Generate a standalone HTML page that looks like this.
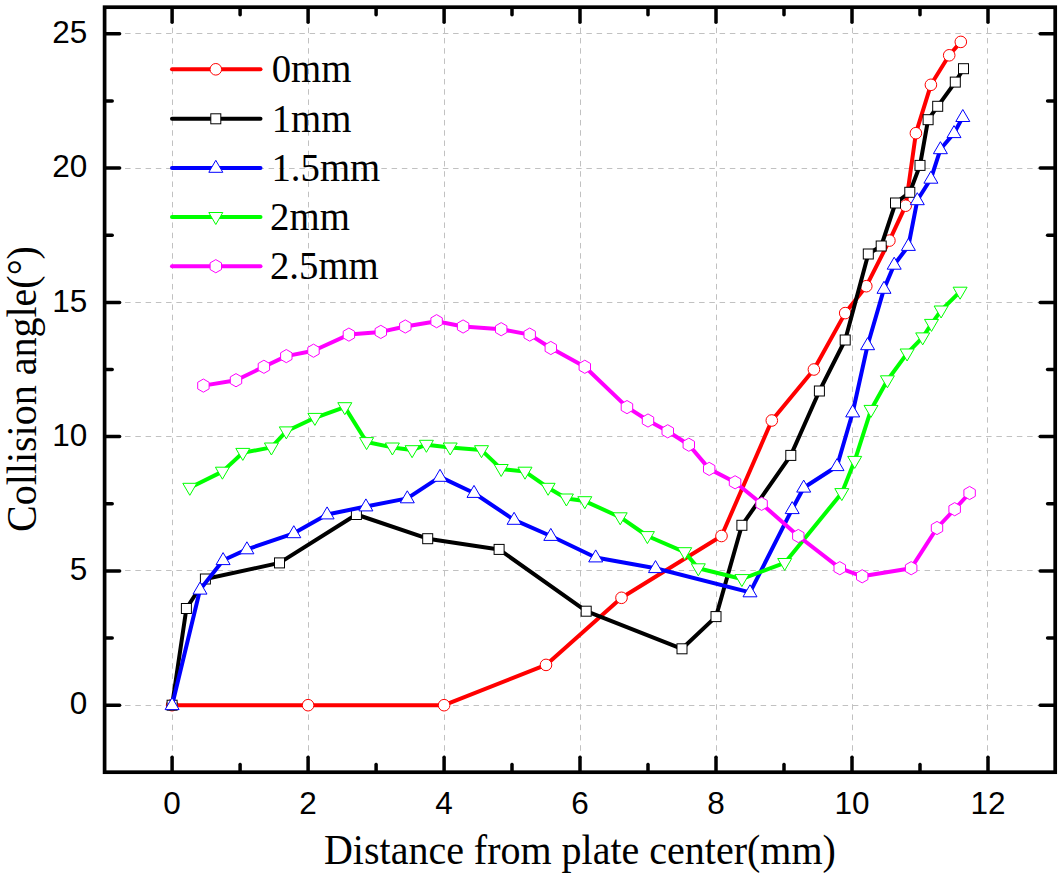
<!DOCTYPE html>
<html><head><meta charset="utf-8"><title>Collision angle chart</title>
<style>html,body{margin:0;padding:0;background:#fff;}body{width:1062px;height:878px;overflow:hidden;position:relative;font-family:"Liberation Sans",sans-serif;}svg{position:absolute;left:0;top:0;display:block;}text{fill:#000;}.tk{font-family:"Liberation Sans",sans-serif;font-size:31.5px;}.ti{font-family:"Liberation Serif",serif;font-size:40px;}.lg{font-family:"Liberation Serif",serif;font-size:38.8px;}</style></head><body>
<svg width="1062" height="878" viewBox="0 0 1062 878">
<rect x="0" y="0" width="1062" height="878" fill="#fff"/>
<g stroke="#c1c1c1" stroke-width="1" stroke-dasharray="5.5 4.75" fill="none">
<line x1="172.5" y1="7.2" x2="172.5" y2="772.2"/>
<line x1="308.5" y1="7.2" x2="308.5" y2="772.2"/>
<line x1="444.5" y1="7.2" x2="444.5" y2="772.2"/>
<line x1="580.5" y1="7.2" x2="580.5" y2="772.2"/>
<line x1="716.5" y1="7.2" x2="716.5" y2="772.2"/>
<line x1="852.5" y1="7.2" x2="852.5" y2="772.2"/>
<line x1="987.5" y1="7.2" x2="987.5" y2="772.2"/>
<line x1="104.6" y1="705.5" x2="1055.2" y2="705.5"/>
<line x1="104.6" y1="570.5" x2="1055.2" y2="570.5"/>
<line x1="104.6" y1="436.5" x2="1055.2" y2="436.5"/>
<line x1="104.6" y1="302.5" x2="1055.2" y2="302.5"/>
<line x1="104.6" y1="168.5" x2="1055.2" y2="168.5"/>
<line x1="104.6" y1="33.5" x2="1055.2" y2="33.5"/>
</g>
<g id="s-red"><polyline points="172.1,705.2 308.1,705.2 444.1,705.2 546.0,664.9 621.5,597.8 721.5,536.0 771.8,420.5 813.9,369.5 845.2,313.1 866.3,286.2 889.4,240.6 905.7,205.7 915.9,133.2 930.9,84.8 949.2,55.3 960.8,41.9" fill="none" stroke="#ff0000" stroke-width="4" stroke-linejoin="round" stroke-linecap="round"/>
<circle cx="172.1" cy="705.2" r="5.8" fill="#fff" stroke="#ff0000" stroke-width="1"/>
<circle cx="308.1" cy="705.2" r="5.8" fill="#fff" stroke="#ff0000" stroke-width="1"/>
<circle cx="444.1" cy="705.2" r="5.8" fill="#fff" stroke="#ff0000" stroke-width="1"/>
<circle cx="546.0" cy="664.9" r="5.8" fill="#fff" stroke="#ff0000" stroke-width="1"/>
<circle cx="621.5" cy="597.8" r="5.8" fill="#fff" stroke="#ff0000" stroke-width="1"/>
<circle cx="721.5" cy="536.0" r="5.8" fill="#fff" stroke="#ff0000" stroke-width="1"/>
<circle cx="771.8" cy="420.5" r="5.8" fill="#fff" stroke="#ff0000" stroke-width="1"/>
<circle cx="813.9" cy="369.5" r="5.8" fill="#fff" stroke="#ff0000" stroke-width="1"/>
<circle cx="845.2" cy="313.1" r="5.8" fill="#fff" stroke="#ff0000" stroke-width="1"/>
<circle cx="866.3" cy="286.2" r="5.8" fill="#fff" stroke="#ff0000" stroke-width="1"/>
<circle cx="889.4" cy="240.6" r="5.8" fill="#fff" stroke="#ff0000" stroke-width="1"/>
<circle cx="905.7" cy="205.7" r="5.8" fill="#fff" stroke="#ff0000" stroke-width="1"/>
<circle cx="915.9" cy="133.2" r="5.8" fill="#fff" stroke="#ff0000" stroke-width="1"/>
<circle cx="930.9" cy="84.8" r="5.8" fill="#fff" stroke="#ff0000" stroke-width="1"/>
<circle cx="949.2" cy="55.3" r="5.8" fill="#fff" stroke="#ff0000" stroke-width="1"/>
<circle cx="960.8" cy="41.9" r="5.8" fill="#fff" stroke="#ff0000" stroke-width="1"/>
</g>
<g id="s-black"><polyline points="172.1,705.2 186.4,608.5 205.4,579.0 279.5,562.9 356.4,514.5 427.7,538.7 499.1,549.4 586.2,611.2 682.0,648.8 716.0,616.6 741.9,525.3 790.8,455.4 819.4,391.0 845.2,340.0 868.3,254.0 881.2,246.0 895.5,203.0 909.8,192.3 920.0,165.4 928.1,119.7 937.7,106.3 955.3,82.1 963.5,68.7" fill="none" stroke="#000000" stroke-width="4" stroke-linejoin="round" stroke-linecap="round"/>
<rect x="167.1" y="700.2" width="10" height="10" fill="#fff" stroke="#000000" stroke-width="1"/>
<rect x="181.4" y="603.5" width="10" height="10" fill="#fff" stroke="#000000" stroke-width="1"/>
<rect x="200.4" y="574.0" width="10" height="10" fill="#fff" stroke="#000000" stroke-width="1"/>
<rect x="274.5" y="557.9" width="10" height="10" fill="#fff" stroke="#000000" stroke-width="1"/>
<rect x="351.4" y="509.5" width="10" height="10" fill="#fff" stroke="#000000" stroke-width="1"/>
<rect x="422.7" y="533.7" width="10" height="10" fill="#fff" stroke="#000000" stroke-width="1"/>
<rect x="494.1" y="544.4" width="10" height="10" fill="#fff" stroke="#000000" stroke-width="1"/>
<rect x="581.2" y="606.2" width="10" height="10" fill="#fff" stroke="#000000" stroke-width="1"/>
<rect x="677.0" y="643.8" width="10" height="10" fill="#fff" stroke="#000000" stroke-width="1"/>
<rect x="711.0" y="611.6" width="10" height="10" fill="#fff" stroke="#000000" stroke-width="1"/>
<rect x="736.9" y="520.3" width="10" height="10" fill="#fff" stroke="#000000" stroke-width="1"/>
<rect x="785.8" y="450.4" width="10" height="10" fill="#fff" stroke="#000000" stroke-width="1"/>
<rect x="814.4" y="386.0" width="10" height="10" fill="#fff" stroke="#000000" stroke-width="1"/>
<rect x="840.2" y="335.0" width="10" height="10" fill="#fff" stroke="#000000" stroke-width="1"/>
<rect x="863.3" y="249.0" width="10" height="10" fill="#fff" stroke="#000000" stroke-width="1"/>
<rect x="876.2" y="241.0" width="10" height="10" fill="#fff" stroke="#000000" stroke-width="1"/>
<rect x="890.5" y="198.0" width="10" height="10" fill="#fff" stroke="#000000" stroke-width="1"/>
<rect x="904.8" y="187.3" width="10" height="10" fill="#fff" stroke="#000000" stroke-width="1"/>
<rect x="915.0" y="160.4" width="10" height="10" fill="#fff" stroke="#000000" stroke-width="1"/>
<rect x="923.1" y="114.7" width="10" height="10" fill="#fff" stroke="#000000" stroke-width="1"/>
<rect x="932.7" y="101.3" width="10" height="10" fill="#fff" stroke="#000000" stroke-width="1"/>
<rect x="950.3" y="77.1" width="10" height="10" fill="#fff" stroke="#000000" stroke-width="1"/>
<rect x="958.5" y="63.7" width="10" height="10" fill="#fff" stroke="#000000" stroke-width="1"/>
</g>
<g id="s-blue"><polyline points="172.1,705.2 200.0,589.7 223.1,560.2 246.9,549.4 293.8,533.3 327.1,514.5 365.9,506.5 407.3,498.4 440.0,476.9 474.0,493.0 514.1,519.9 550.8,536.0 595.7,557.5 655.5,568.2 750.0,592.4 792.2,509.2 803.7,487.7 837.0,466.2 852.7,412.5 867.6,345.3 884.0,288.9 894.2,264.8 908.4,246.0 917.3,200.3 930.9,178.8 940.4,149.3 954.0,133.2 962.8,117.1" fill="none" stroke="#0000ff" stroke-width="4" stroke-linejoin="round" stroke-linecap="round"/>
<polygon points="165.1,709.6 179.1,709.6 172.1,697.6" fill="#fff" stroke="#0000ff" stroke-width="1" stroke-linejoin="miter"/>
<polygon points="193.0,594.1 207.0,594.1 200.0,582.1" fill="#fff" stroke="#0000ff" stroke-width="1" stroke-linejoin="miter"/>
<polygon points="216.1,564.6 230.1,564.6 223.1,552.6" fill="#fff" stroke="#0000ff" stroke-width="1" stroke-linejoin="miter"/>
<polygon points="239.9,553.8 253.9,553.8 246.9,541.8" fill="#fff" stroke="#0000ff" stroke-width="1" stroke-linejoin="miter"/>
<polygon points="286.8,537.7 300.8,537.7 293.8,525.7" fill="#fff" stroke="#0000ff" stroke-width="1" stroke-linejoin="miter"/>
<polygon points="320.1,518.9 334.1,518.9 327.1,506.9" fill="#fff" stroke="#0000ff" stroke-width="1" stroke-linejoin="miter"/>
<polygon points="358.9,510.9 372.9,510.9 365.9,498.9" fill="#fff" stroke="#0000ff" stroke-width="1" stroke-linejoin="miter"/>
<polygon points="400.3,502.8 414.3,502.8 407.3,490.8" fill="#fff" stroke="#0000ff" stroke-width="1" stroke-linejoin="miter"/>
<polygon points="433.0,481.3 447.0,481.3 440.0,469.3" fill="#fff" stroke="#0000ff" stroke-width="1" stroke-linejoin="miter"/>
<polygon points="467.0,497.4 481.0,497.4 474.0,485.4" fill="#fff" stroke="#0000ff" stroke-width="1" stroke-linejoin="miter"/>
<polygon points="507.1,524.3 521.1,524.3 514.1,512.3" fill="#fff" stroke="#0000ff" stroke-width="1" stroke-linejoin="miter"/>
<polygon points="543.8,540.4 557.8,540.4 550.8,528.4" fill="#fff" stroke="#0000ff" stroke-width="1" stroke-linejoin="miter"/>
<polygon points="588.7,561.9 602.7,561.9 595.7,549.9" fill="#fff" stroke="#0000ff" stroke-width="1" stroke-linejoin="miter"/>
<polygon points="648.5,572.6 662.5,572.6 655.5,560.6" fill="#fff" stroke="#0000ff" stroke-width="1" stroke-linejoin="miter"/>
<polygon points="743.0,596.8 757.0,596.8 750.0,584.8" fill="#fff" stroke="#0000ff" stroke-width="1" stroke-linejoin="miter"/>
<polygon points="785.2,513.6 799.2,513.6 792.2,501.6" fill="#fff" stroke="#0000ff" stroke-width="1" stroke-linejoin="miter"/>
<polygon points="796.7,492.1 810.7,492.1 803.7,480.1" fill="#fff" stroke="#0000ff" stroke-width="1" stroke-linejoin="miter"/>
<polygon points="830.0,470.6 844.0,470.6 837.0,458.6" fill="#fff" stroke="#0000ff" stroke-width="1" stroke-linejoin="miter"/>
<polygon points="845.7,416.9 859.7,416.9 852.7,404.9" fill="#fff" stroke="#0000ff" stroke-width="1" stroke-linejoin="miter"/>
<polygon points="860.6,349.7 874.6,349.7 867.6,337.7" fill="#fff" stroke="#0000ff" stroke-width="1" stroke-linejoin="miter"/>
<polygon points="877.0,293.3 891.0,293.3 884.0,281.3" fill="#fff" stroke="#0000ff" stroke-width="1" stroke-linejoin="miter"/>
<polygon points="887.2,269.2 901.2,269.2 894.2,257.2" fill="#fff" stroke="#0000ff" stroke-width="1" stroke-linejoin="miter"/>
<polygon points="901.4,250.4 915.4,250.4 908.4,238.4" fill="#fff" stroke="#0000ff" stroke-width="1" stroke-linejoin="miter"/>
<polygon points="910.3,204.7 924.3,204.7 917.3,192.7" fill="#fff" stroke="#0000ff" stroke-width="1" stroke-linejoin="miter"/>
<polygon points="923.9,183.2 937.9,183.2 930.9,171.2" fill="#fff" stroke="#0000ff" stroke-width="1" stroke-linejoin="miter"/>
<polygon points="933.4,153.7 947.4,153.7 940.4,141.7" fill="#fff" stroke="#0000ff" stroke-width="1" stroke-linejoin="miter"/>
<polygon points="947.0,137.6 961.0,137.6 954.0,125.6" fill="#fff" stroke="#0000ff" stroke-width="1" stroke-linejoin="miter"/>
<polygon points="955.8,121.5 969.8,121.5 962.8,109.5" fill="#fff" stroke="#0000ff" stroke-width="1" stroke-linejoin="miter"/>
</g>
<g id="s-green"><polyline points="189.8,487.7 222.4,471.6 242.8,452.8 271.4,447.4 286.3,431.3 314.9,417.8 344.8,407.1 366.6,442.0 392.4,447.4 412.1,450.1 426.4,444.7 450.2,447.4 481.5,450.1 501.2,468.9 525.0,471.6 548.1,487.7 566.4,498.4 584.8,501.1 620.2,517.2 647.4,536.0 684.7,552.1 698.3,568.2 741.9,579.0 784.7,562.9 841.8,493.0 854.7,460.8 871.0,409.8 887.4,380.2 907.1,353.4 922.7,337.3 931.5,323.8 941.1,310.4 960.1,291.6" fill="none" stroke="#00ff00" stroke-width="4" stroke-linejoin="round" stroke-linecap="round"/>
<polygon points="182.8,483.3 196.8,483.3 189.8,495.3" fill="#fff" stroke="#00ff00" stroke-width="1" stroke-linejoin="miter"/>
<polygon points="215.4,467.2 229.4,467.2 222.4,479.2" fill="#fff" stroke="#00ff00" stroke-width="1" stroke-linejoin="miter"/>
<polygon points="235.8,448.4 249.8,448.4 242.8,460.4" fill="#fff" stroke="#00ff00" stroke-width="1" stroke-linejoin="miter"/>
<polygon points="264.4,443.0 278.4,443.0 271.4,455.0" fill="#fff" stroke="#00ff00" stroke-width="1" stroke-linejoin="miter"/>
<polygon points="279.3,426.9 293.3,426.9 286.3,438.9" fill="#fff" stroke="#00ff00" stroke-width="1" stroke-linejoin="miter"/>
<polygon points="307.9,413.4 321.9,413.4 314.9,425.4" fill="#fff" stroke="#00ff00" stroke-width="1" stroke-linejoin="miter"/>
<polygon points="337.8,402.7 351.8,402.7 344.8,414.7" fill="#fff" stroke="#00ff00" stroke-width="1" stroke-linejoin="miter"/>
<polygon points="359.6,437.6 373.6,437.6 366.6,449.6" fill="#fff" stroke="#00ff00" stroke-width="1" stroke-linejoin="miter"/>
<polygon points="385.4,443.0 399.4,443.0 392.4,455.0" fill="#fff" stroke="#00ff00" stroke-width="1" stroke-linejoin="miter"/>
<polygon points="405.1,445.7 419.1,445.7 412.1,457.7" fill="#fff" stroke="#00ff00" stroke-width="1" stroke-linejoin="miter"/>
<polygon points="419.4,440.3 433.4,440.3 426.4,452.3" fill="#fff" stroke="#00ff00" stroke-width="1" stroke-linejoin="miter"/>
<polygon points="443.2,443.0 457.2,443.0 450.2,455.0" fill="#fff" stroke="#00ff00" stroke-width="1" stroke-linejoin="miter"/>
<polygon points="474.5,445.7 488.5,445.7 481.5,457.7" fill="#fff" stroke="#00ff00" stroke-width="1" stroke-linejoin="miter"/>
<polygon points="494.2,464.5 508.2,464.5 501.2,476.5" fill="#fff" stroke="#00ff00" stroke-width="1" stroke-linejoin="miter"/>
<polygon points="518.0,467.2 532.0,467.2 525.0,479.2" fill="#fff" stroke="#00ff00" stroke-width="1" stroke-linejoin="miter"/>
<polygon points="541.1,483.3 555.1,483.3 548.1,495.3" fill="#fff" stroke="#00ff00" stroke-width="1" stroke-linejoin="miter"/>
<polygon points="559.4,494.0 573.4,494.0 566.4,506.0" fill="#fff" stroke="#00ff00" stroke-width="1" stroke-linejoin="miter"/>
<polygon points="577.8,496.7 591.8,496.7 584.8,508.7" fill="#fff" stroke="#00ff00" stroke-width="1" stroke-linejoin="miter"/>
<polygon points="613.2,512.8 627.2,512.8 620.2,524.8" fill="#fff" stroke="#00ff00" stroke-width="1" stroke-linejoin="miter"/>
<polygon points="640.4,531.6 654.4,531.6 647.4,543.6" fill="#fff" stroke="#00ff00" stroke-width="1" stroke-linejoin="miter"/>
<polygon points="677.7,547.7 691.7,547.7 684.7,559.7" fill="#fff" stroke="#00ff00" stroke-width="1" stroke-linejoin="miter"/>
<polygon points="691.3,563.8 705.3,563.8 698.3,575.8" fill="#fff" stroke="#00ff00" stroke-width="1" stroke-linejoin="miter"/>
<polygon points="734.9,574.6 748.9,574.6 741.9,586.6" fill="#fff" stroke="#00ff00" stroke-width="1" stroke-linejoin="miter"/>
<polygon points="777.7,558.5 791.7,558.5 784.7,570.5" fill="#fff" stroke="#00ff00" stroke-width="1" stroke-linejoin="miter"/>
<polygon points="834.8,488.6 848.8,488.6 841.8,500.6" fill="#fff" stroke="#00ff00" stroke-width="1" stroke-linejoin="miter"/>
<polygon points="847.7,456.4 861.7,456.4 854.7,468.4" fill="#fff" stroke="#00ff00" stroke-width="1" stroke-linejoin="miter"/>
<polygon points="864.0,405.4 878.0,405.4 871.0,417.4" fill="#fff" stroke="#00ff00" stroke-width="1" stroke-linejoin="miter"/>
<polygon points="880.4,375.8 894.4,375.8 887.4,387.8" fill="#fff" stroke="#00ff00" stroke-width="1" stroke-linejoin="miter"/>
<polygon points="900.1,349.0 914.1,349.0 907.1,361.0" fill="#fff" stroke="#00ff00" stroke-width="1" stroke-linejoin="miter"/>
<polygon points="915.7,332.9 929.7,332.9 922.7,344.9" fill="#fff" stroke="#00ff00" stroke-width="1" stroke-linejoin="miter"/>
<polygon points="924.5,319.4 938.5,319.4 931.5,331.4" fill="#fff" stroke="#00ff00" stroke-width="1" stroke-linejoin="miter"/>
<polygon points="934.1,306.0 948.1,306.0 941.1,318.0" fill="#fff" stroke="#00ff00" stroke-width="1" stroke-linejoin="miter"/>
<polygon points="953.1,287.2 967.1,287.2 960.1,299.2" fill="#fff" stroke="#00ff00" stroke-width="1" stroke-linejoin="miter"/>
</g>
<g id="s-magenta"><polyline points="203.4,385.6 236.0,380.2 263.9,366.8 286.3,356.1 313.5,350.7 348.9,334.6 380.8,331.9 405.3,326.5 436.6,321.2 463.1,326.5 501.2,329.2 529.7,334.6 550.8,348.0 584.8,366.8 627.0,407.1 648.0,420.5 667.7,431.3 688.8,444.7 709.2,468.9 735.1,482.3 761.6,503.8 798.3,536.0 839.8,568.2 862.2,576.3 911.2,568.2 937.0,528.0 954.7,509.2 969.6,493.0" fill="none" stroke="#ff00ff" stroke-width="4" stroke-linejoin="round" stroke-linecap="round"/>
<polygon points="203.4,379.0 209.1,382.3 209.1,388.9 203.4,392.2 197.7,388.9 197.7,382.3" fill="#fff" stroke="#ff00ff" stroke-width="1" stroke-linejoin="miter"/>
<polygon points="236.0,373.6 241.7,376.9 241.7,383.5 236.0,386.8 230.3,383.5 230.3,376.9" fill="#fff" stroke="#ff00ff" stroke-width="1" stroke-linejoin="miter"/>
<polygon points="263.9,360.2 269.6,363.5 269.6,370.1 263.9,373.4 258.2,370.1 258.2,363.5" fill="#fff" stroke="#ff00ff" stroke-width="1" stroke-linejoin="miter"/>
<polygon points="286.3,349.5 292.0,352.8 292.0,359.4 286.3,362.7 280.6,359.4 280.6,352.8" fill="#fff" stroke="#ff00ff" stroke-width="1" stroke-linejoin="miter"/>
<polygon points="313.5,344.1 319.2,347.4 319.2,354.0 313.5,357.3 307.8,354.0 307.8,347.4" fill="#fff" stroke="#ff00ff" stroke-width="1" stroke-linejoin="miter"/>
<polygon points="348.9,328.0 354.6,331.3 354.6,337.9 348.9,341.2 343.2,337.9 343.2,331.3" fill="#fff" stroke="#ff00ff" stroke-width="1" stroke-linejoin="miter"/>
<polygon points="380.8,325.3 386.5,328.6 386.5,335.2 380.8,338.5 375.1,335.2 375.1,328.6" fill="#fff" stroke="#ff00ff" stroke-width="1" stroke-linejoin="miter"/>
<polygon points="405.3,319.9 411.0,323.2 411.0,329.8 405.3,333.1 399.6,329.8 399.6,323.2" fill="#fff" stroke="#ff00ff" stroke-width="1" stroke-linejoin="miter"/>
<polygon points="436.6,314.6 442.3,317.9 442.3,324.5 436.6,327.8 430.9,324.5 430.9,317.9" fill="#fff" stroke="#ff00ff" stroke-width="1" stroke-linejoin="miter"/>
<polygon points="463.1,319.9 468.8,323.2 468.8,329.8 463.1,333.1 457.4,329.8 457.4,323.2" fill="#fff" stroke="#ff00ff" stroke-width="1" stroke-linejoin="miter"/>
<polygon points="501.2,322.6 506.9,325.9 506.9,332.5 501.2,335.8 495.5,332.5 495.5,325.9" fill="#fff" stroke="#ff00ff" stroke-width="1" stroke-linejoin="miter"/>
<polygon points="529.7,328.0 535.4,331.3 535.4,337.9 529.7,341.2 524.0,337.9 524.0,331.3" fill="#fff" stroke="#ff00ff" stroke-width="1" stroke-linejoin="miter"/>
<polygon points="550.8,341.4 556.5,344.7 556.5,351.3 550.8,354.6 545.1,351.3 545.1,344.7" fill="#fff" stroke="#ff00ff" stroke-width="1" stroke-linejoin="miter"/>
<polygon points="584.8,360.2 590.5,363.5 590.5,370.1 584.8,373.4 579.1,370.1 579.1,363.5" fill="#fff" stroke="#ff00ff" stroke-width="1" stroke-linejoin="miter"/>
<polygon points="627.0,400.5 632.7,403.8 632.7,410.4 627.0,413.7 621.2,410.4 621.2,403.8" fill="#fff" stroke="#ff00ff" stroke-width="1" stroke-linejoin="miter"/>
<polygon points="648.0,413.9 653.7,417.2 653.7,423.8 648.0,427.1 642.3,423.8 642.3,417.2" fill="#fff" stroke="#ff00ff" stroke-width="1" stroke-linejoin="miter"/>
<polygon points="667.7,424.7 673.5,428.0 673.5,434.6 667.7,437.9 662.0,434.6 662.0,428.0" fill="#fff" stroke="#ff00ff" stroke-width="1" stroke-linejoin="miter"/>
<polygon points="688.8,438.1 694.5,441.4 694.5,448.0 688.8,451.3 683.1,448.0 683.1,441.4" fill="#fff" stroke="#ff00ff" stroke-width="1" stroke-linejoin="miter"/>
<polygon points="709.2,462.3 714.9,465.6 714.9,472.2 709.2,475.5 703.5,472.2 703.5,465.6" fill="#fff" stroke="#ff00ff" stroke-width="1" stroke-linejoin="miter"/>
<polygon points="735.1,475.7 740.8,479.0 740.8,485.6 735.1,488.9 729.3,485.6 729.3,479.0" fill="#fff" stroke="#ff00ff" stroke-width="1" stroke-linejoin="miter"/>
<polygon points="761.6,497.2 767.3,500.5 767.3,507.1 761.6,510.4 755.9,507.1 755.9,500.5" fill="#fff" stroke="#ff00ff" stroke-width="1" stroke-linejoin="miter"/>
<polygon points="798.3,529.4 804.0,532.7 804.0,539.3 798.3,542.6 792.6,539.3 792.6,532.7" fill="#fff" stroke="#ff00ff" stroke-width="1" stroke-linejoin="miter"/>
<polygon points="839.8,561.6 845.5,564.9 845.5,571.5 839.8,574.8 834.0,571.5 834.0,564.9" fill="#fff" stroke="#ff00ff" stroke-width="1" stroke-linejoin="miter"/>
<polygon points="862.2,569.7 867.9,573.0 867.9,579.6 862.2,582.9 856.5,579.6 856.5,573.0" fill="#fff" stroke="#ff00ff" stroke-width="1" stroke-linejoin="miter"/>
<polygon points="911.2,561.6 916.9,564.9 916.9,571.5 911.2,574.8 905.4,571.5 905.4,564.9" fill="#fff" stroke="#ff00ff" stroke-width="1" stroke-linejoin="miter"/>
<polygon points="937.0,521.4 942.7,524.7 942.7,531.3 937.0,534.6 931.3,531.3 931.3,524.7" fill="#fff" stroke="#ff00ff" stroke-width="1" stroke-linejoin="miter"/>
<polygon points="954.7,502.6 960.4,505.9 960.4,512.5 954.7,515.8 948.9,512.5 948.9,505.9" fill="#fff" stroke="#ff00ff" stroke-width="1" stroke-linejoin="miter"/>
<polygon points="969.6,486.4 975.3,489.7 975.3,496.3 969.6,499.6 963.9,496.3 963.9,489.7" fill="#fff" stroke="#ff00ff" stroke-width="1" stroke-linejoin="miter"/>
</g>
<g stroke="#000" stroke-width="3.5" stroke-linecap="round" fill="none">
<line x1="172.1" y1="771.6" x2="172.1" y2="757.2"/>
<line x1="172.1" y1="7.8" x2="172.1" y2="22.2"/>
<line x1="240.1" y1="771.6" x2="240.1" y2="764.6"/>
<line x1="240.1" y1="7.8" x2="240.1" y2="14.8"/>
<line x1="308.1" y1="771.6" x2="308.1" y2="757.2"/>
<line x1="308.1" y1="7.8" x2="308.1" y2="22.2"/>
<line x1="376.1" y1="771.6" x2="376.1" y2="764.6"/>
<line x1="376.1" y1="7.8" x2="376.1" y2="14.8"/>
<line x1="444.1" y1="771.6" x2="444.1" y2="757.2"/>
<line x1="444.1" y1="7.8" x2="444.1" y2="22.2"/>
<line x1="512.0" y1="771.6" x2="512.0" y2="764.6"/>
<line x1="512.0" y1="7.8" x2="512.0" y2="14.8"/>
<line x1="580.0" y1="771.6" x2="580.0" y2="757.2"/>
<line x1="580.0" y1="7.8" x2="580.0" y2="22.2"/>
<line x1="648.0" y1="771.6" x2="648.0" y2="764.6"/>
<line x1="648.0" y1="7.8" x2="648.0" y2="14.8"/>
<line x1="716.0" y1="771.6" x2="716.0" y2="757.2"/>
<line x1="716.0" y1="7.8" x2="716.0" y2="22.2"/>
<line x1="784.0" y1="771.6" x2="784.0" y2="764.6"/>
<line x1="784.0" y1="7.8" x2="784.0" y2="14.8"/>
<line x1="852.0" y1="771.6" x2="852.0" y2="757.2"/>
<line x1="852.0" y1="7.8" x2="852.0" y2="22.2"/>
<line x1="920.0" y1="771.6" x2="920.0" y2="764.6"/>
<line x1="920.0" y1="7.8" x2="920.0" y2="14.8"/>
<line x1="988.0" y1="771.6" x2="988.0" y2="757.2"/>
<line x1="988.0" y1="7.8" x2="988.0" y2="22.2"/>
<line x1="105.19999999999999" y1="705.2" x2="119.6" y2="705.2"/>
<line x1="1054.6000000000001" y1="705.2" x2="1040.2" y2="705.2"/>
<line x1="105.19999999999999" y1="638.1" x2="112.19999999999999" y2="638.1"/>
<line x1="1054.6000000000001" y1="638.1" x2="1047.6000000000001" y2="638.1"/>
<line x1="105.19999999999999" y1="570.9" x2="119.6" y2="570.9"/>
<line x1="1054.6000000000001" y1="570.9" x2="1040.2" y2="570.9"/>
<line x1="105.19999999999999" y1="503.8" x2="112.19999999999999" y2="503.8"/>
<line x1="1054.6000000000001" y1="503.8" x2="1047.6000000000001" y2="503.8"/>
<line x1="105.19999999999999" y1="436.6" x2="119.6" y2="436.6"/>
<line x1="1054.6000000000001" y1="436.6" x2="1040.2" y2="436.6"/>
<line x1="105.19999999999999" y1="369.5" x2="112.19999999999999" y2="369.5"/>
<line x1="1054.6000000000001" y1="369.5" x2="1047.6000000000001" y2="369.5"/>
<line x1="105.19999999999999" y1="302.4" x2="119.6" y2="302.4"/>
<line x1="1054.6000000000001" y1="302.4" x2="1040.2" y2="302.4"/>
<line x1="105.19999999999999" y1="235.2" x2="112.19999999999999" y2="235.2"/>
<line x1="1054.6000000000001" y1="235.2" x2="1047.6000000000001" y2="235.2"/>
<line x1="105.19999999999999" y1="168.1" x2="119.6" y2="168.1"/>
<line x1="1054.6000000000001" y1="168.1" x2="1040.2" y2="168.1"/>
<line x1="105.19999999999999" y1="100.9" x2="112.19999999999999" y2="100.9"/>
<line x1="1054.6000000000001" y1="100.9" x2="1047.6000000000001" y2="100.9"/>
<line x1="105.19999999999999" y1="33.8" x2="119.6" y2="33.8"/>
<line x1="1054.6000000000001" y1="33.8" x2="1040.2" y2="33.8"/>
</g>
<rect x="104.6" y="7.2" width="950.6" height="765.0" fill="none" stroke="#000" stroke-width="3.7"/>
<text class="tk" x="172.1" y="813.6" text-anchor="middle">0</text>
<text class="tk" x="308.1" y="813.6" text-anchor="middle">2</text>
<text class="tk" x="444.1" y="813.6" text-anchor="middle">4</text>
<text class="tk" x="580.0" y="813.6" text-anchor="middle">6</text>
<text class="tk" x="716.0" y="813.6" text-anchor="middle">8</text>
<text class="tk" x="852.0" y="813.6" text-anchor="middle">10</text>
<text class="tk" x="988.0" y="813.6" text-anchor="middle">12</text>
<text class="tk" x="87.3" y="714.4" text-anchor="end">0</text>
<text class="tk" x="87.3" y="580.1" text-anchor="end">5</text>
<text class="tk" x="87.3" y="445.8" text-anchor="end">10</text>
<text class="tk" x="87.3" y="311.6" text-anchor="end">15</text>
<text class="tk" x="87.3" y="177.3" text-anchor="end">20</text>
<text class="tk" x="87.3" y="43.0" text-anchor="end">25</text>
<text class="ti" transform="translate(579.9,863.6) scale(1,1.03)" text-anchor="middle">Distance from plate center(mm)</text>
<text class="ti" transform="translate(35.7,389) rotate(-90) scale(1,1.04)" text-anchor="middle">Collision angle(°)</text>
<line x1="172" y1="69.3" x2="260.5" y2="69.3" stroke="#ff0000" stroke-width="4" stroke-linecap="round"/>
<circle cx="215.8" cy="69.3" r="5.8" fill="#fff" stroke="#ff0000" stroke-width="1"/>
<text class="lg" transform="translate(271.7,82.3) scale(1,1.055)">0mm</text>
<line x1="172" y1="118.8" x2="260.5" y2="118.8" stroke="#000000" stroke-width="4" stroke-linecap="round"/>
<rect x="210.8" y="113.8" width="10" height="10" fill="#fff" stroke="#000000" stroke-width="1"/>
<text class="lg" transform="translate(271.7,131.7) scale(1,1.055)">1mm</text>
<line x1="172" y1="167.9" x2="260.5" y2="167.9" stroke="#0000ff" stroke-width="4" stroke-linecap="round"/>
<polygon points="208.8,172.3 222.8,172.3 215.8,160.3" fill="#fff" stroke="#0000ff" stroke-width="1" stroke-linejoin="miter"/>
<text class="lg" transform="translate(271.4,180.6) scale(1,1.055)">1.5mm</text>
<line x1="172" y1="216.9" x2="260.5" y2="216.9" stroke="#00ff00" stroke-width="4" stroke-linecap="round"/>
<polygon points="208.8,212.5 222.8,212.5 215.8,224.5" fill="#fff" stroke="#00ff00" stroke-width="1" stroke-linejoin="miter"/>
<text class="lg" transform="translate(270.1,229.9) scale(1,1.055)">2mm</text>
<line x1="172" y1="266.2" x2="260.5" y2="266.2" stroke="#ff00ff" stroke-width="4" stroke-linecap="round"/>
<polygon points="215.8,259.6 221.5,262.9 221.5,269.5 215.8,272.8 210.1,269.5 210.1,262.9" fill="#fff" stroke="#ff00ff" stroke-width="1" stroke-linejoin="miter"/>
<text class="lg" transform="translate(269.9,278.7) scale(1,1.055)">2.5mm</text>
</svg></body></html>
